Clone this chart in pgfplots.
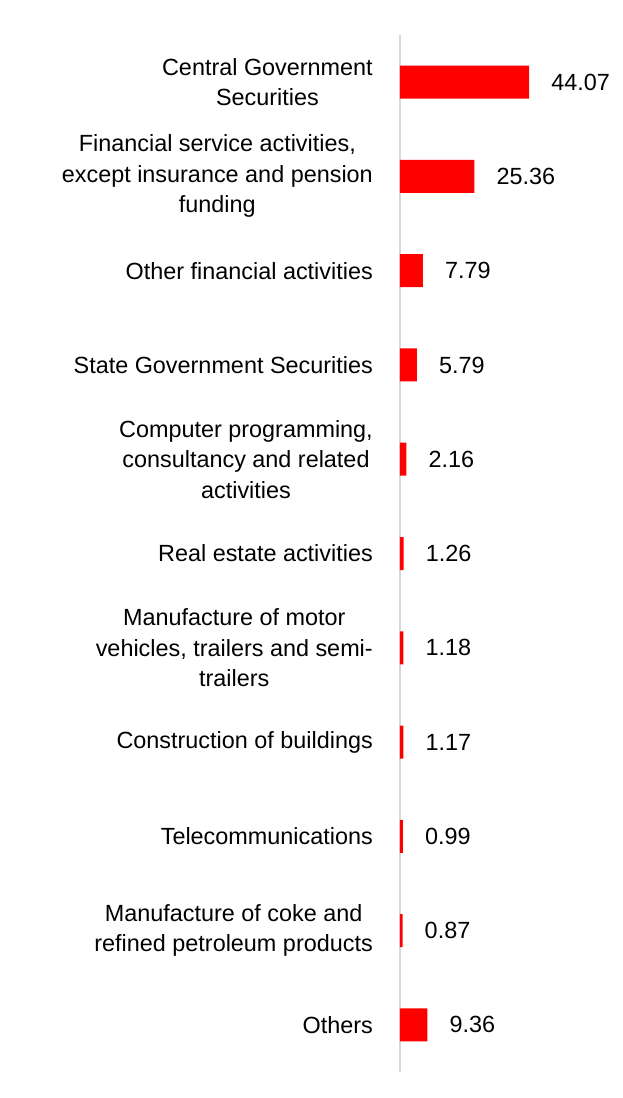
\documentclass[border=0pt]{standalone}
\usepackage{fontspec}
\setmainfont{Liberation Sans}
\usepackage{pgfplots}
\pgfplotsset{compat=1.18}
\definecolor{barred}{HTML}{FF0000}
\definecolor{axgray}{HTML}{D9D9D9}
\begin{document}
\begin{tikzpicture}
\begin{axis}[
  at={(0,0)}, anchor=south west,
  scale only axis, width=200pt, height=1037pt,
  xbar, bar width=33pt,
  xmin=0, xmax=68.26,
  ymin=-0.5, ymax=10.5, y dir=reverse,
  axis x line=none,
  axis y line=left,
  axis line style={-, draw=axgray, line width=1.8pt},
  ytick={0,...,10},
  yticklabels={
    {Central Government\\Securities},
    {Financial service activities,\\except insurance and pension\\funding},
    {Other financial activities},
    {State Government Securities},
    {Computer programming,\\consultancy and related\\activities},
    {Real estate activities},
    {Manufacture of motor\\vehicles, trailers and semi-\\trailers},
    {Construction of buildings},
    {Telecommunications},
    {Manufacture of coke and\\refined petroleum products},
    {Others}},
  major tick length=0pt,
  yticklabel style={font=\fontsize{23.4}{30.5}\selectfont, align=center, anchor=east, inner sep=0pt, xshift=-27pt},
  nodes near coords, point meta=explicit symbolic,
  nodes near coords style={font=\fontsize{23.4}{30.5}\selectfont, anchor=west, inner sep=0pt, xshift=22pt, text=black},
  clip=false,
]
\addplot[fill=barred, draw=none] coordinates {
  (44.07,0) [44.07]
  (25.36,1) [25.36]
  (7.79,2) [7.79]
  (5.79,3) [5.79]
  (2.16,4) [2.16]
  (1.26,5) [1.26]
  (1.18,6) [1.18]
  (1.17,7) [1.17]
  (0.99,8) [0.99]
  (0.87,9) [0.87]
  (9.36,10) [9.36]
};
\end{axis}
\pgfresetboundingbox
\path (-400pt,-26pt) rectangle (222pt,1072pt);
\end{tikzpicture}
\end{document}
